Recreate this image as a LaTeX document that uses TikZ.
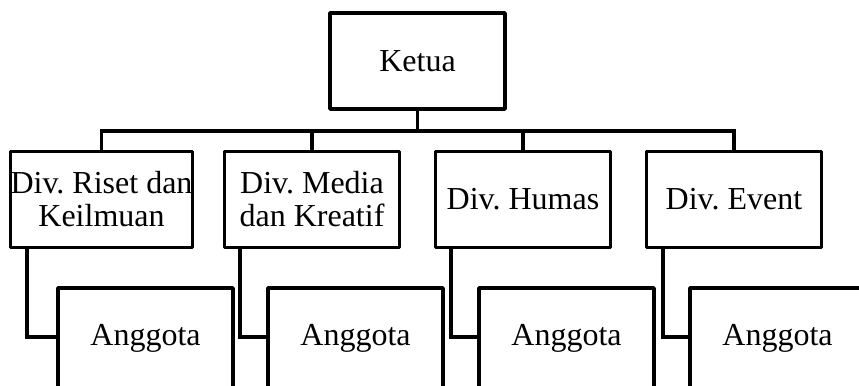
\documentclass[tikz,border=0pt]{standalone}
\usepackage{fontspec}
\setmainfont{Liberation Serif}
\frenchspacing
\begin{document}
\begin{tikzpicture}[x=0.75pt,y=-0.75pt,
  box/.style={draw=black,line width=2.7pt,line join=round,fill=white,
    minimum width=131.25pt,minimum height=72pt,inner sep=0pt,align=center,
    font=\fontsize{24}{24.75}\selectfont},
  member/.style={box,minimum height=76pt},
  conn/.style={draw=black,line width=2.7pt,line join=miter}]
\clip (0,0) rectangle (859,385);
\fill[white] (0,0) rectangle (859,385);
% top
\node[box] (k) at (417.5,61) {Ketua};
% divisions
\node[box] (d1) at (101.5,199.5) {Div. Riset dan\\Keilmuan};
\node[box] (d2) at (312,199.5) {Div. Media\\dan Kreatif};
\node[box] (d3) at (523,199.5) {Div. Humas};
\node[box] (d4) at (734,199.5) {Div. Event};
% members
\node[member] (a1) at (145.5,338.7) {Anggota};
\node[member] (a2) at (355.5,338.7) {Anggota};
\node[member] (a3) at (566.5,338.7) {Anggota};
\node[member] (a4) at (777.5,338.7) {Anggota};
\coordinate (bus) at (417.5,131);
% connectors
\draw[conn] (k.south) -- (bus);
\draw[conn] (d1.north) -- (d1.north |- bus) -- (d4.north |- bus) -- (d4.north);
\draw[conn] (d2.north) -- (d2.north |- bus);
\draw[conn] (d3.north) -- (d3.north |- bus);
\draw[conn] ([xshift=13.5pt]d1.south west) |- ([yshift=1.2pt]a1.west);
\draw[conn] ([xshift=13pt]d2.south west) |- ([yshift=1.2pt]a2.west);
\draw[conn] ([xshift=13pt]d3.south west) |- ([yshift=1.2pt]a3.west);
\draw[conn] ([xshift=13.5pt]d4.south west) |- ([yshift=1.2pt]a4.west);
\end{tikzpicture}
\end{document}
